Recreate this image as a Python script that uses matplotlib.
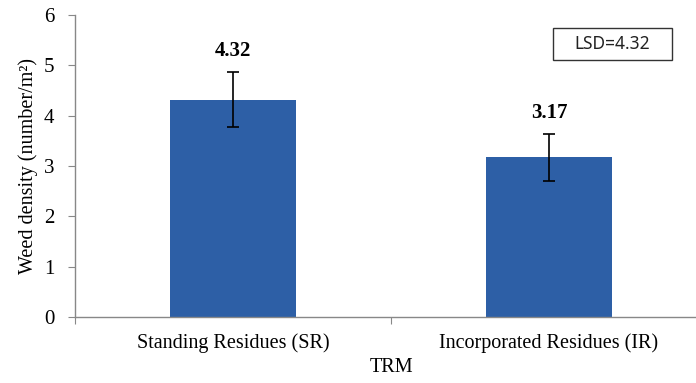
import matplotlib.pyplot as plt
from matplotlib.patches import Rectangle
import numpy as np

categories = ["Standing Residues (SR)", "Incorporated Residues (IR)"]
values = [4.32, 3.17]
errors = [0.55, 0.46]
value_labels = ["4.32", "3.17"]
yticks = [0, 1, 2, 3, 4, 5, 6]
lsd_text = "LSD=4.32"

plt.rcParams['font.family'] = ['Liberation Serif', 'DejaVu Serif']

fig = plt.figure(figsize=(6.96, 3.83), dpi=100)
ax = fig.add_axes([75/696, 66/383, 632/696, 302/383])

x = np.arange(len(categories))
ax.bar(x, values, width=0.4, color='#2D5FA6', zorder=2)
ax.errorbar(x, values, yerr=errors, fmt='none', ecolor='black', elinewidth=1.2,
            capsize=4, capthick=1.2, zorder=3)
for xi, v, e, lab in zip(x, values, errors, value_labels):
    ax.text(xi, v + e + 0.22, lab, ha='center', va='bottom', fontsize=15,
            fontweight='bold')

ax.set_xlim(-0.5, 1.5)
ax.set_ylim(0, 6)
ax.set_yticks(yticks)
ax.set_yticklabels([str(t) for t in yticks], fontsize=15)
ax.set_xticks([-0.5, 0.5, 1.5])
ax.set_xticklabels([])
ax.set_xticks(x, minor=True)
ax.set_xticklabels(categories, minor=True, fontsize=14.5)
ax.tick_params(axis='x', which='minor', length=0, pad=12)
ax.tick_params(axis='x', which='major', length=5, color='#888888', direction='out')
ax.tick_params(axis='y', length=5, color='#888888', direction='out', pad=10)

for s in ['top', 'right']:
    ax.spines[s].set_visible(False)
for s in ['left', 'bottom']:
    ax.spines[s].set_color('#888888')
    ax.spines[s].set_linewidth(1.0)

ax.set_ylabel("Weed density (number/m²)", fontsize=14.5, labelpad=4)
ax.set_xlabel("TRM", fontsize=14.5, labelpad=3)

fig.patches.append(Rectangle((553/696, 1 - 60/383), 119/696, 32/383,
                             transform=fig.transFigure, facecolor='white',
                             edgecolor='#333333', linewidth=1.0))
fig.text(612/696, 1 - 44/383, lsd_text, ha='center', va='center', fontsize=12.5,
         family=['Noto Sans', 'DejaVu Sans'], color='#222222')

fig.savefig('out.png', dpi=100)
